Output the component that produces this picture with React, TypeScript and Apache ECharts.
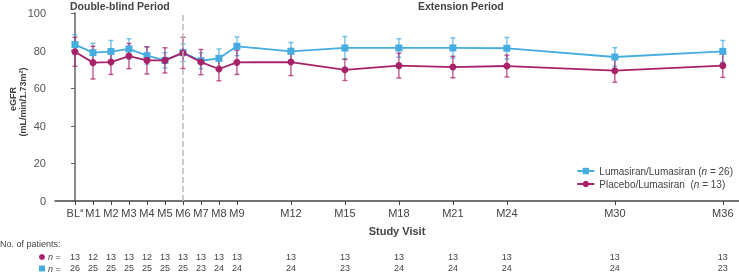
import React, { useEffect, useRef } from "react";
import * as echarts from "echarts";

const months = [0, 1, 2, 3, 4, 5, 6, 7, 8, 9, 12, 15, 18, 21, 24, 30, 36];
const visitLabels = ["BL", "M1", "M2", "M3", "M4", "M5", "M6", "M7", "M8", "M9", "M12", "M15", "M18", "M21", "M24", "M30", "M36"];
const lumaMean = [83.2, 78.9, 79.5, 80.9, 77.3, 74.8, 78.9, 74.6, 75.9, 82.3, 79.6, 81.4, 81.4, 81.4, 81.25, 76.6, 79.6];
const lumaSD = [5.2, 5.0, 5.9, 5.4, 4.5, 4.1, 4.7, 4.2, 5.0, 5.0, 4.7, 6.1, 4.9, 5.4, 5.75, 5.0, 5.8];
const placMean = [79.4, 73.6, 73.9, 77.1, 74.8, 74.8, 78.75, 73.9, 70.2, 73.75, 73.9, 69.8, 72.0, 71.25, 71.8, 69.3, 72.0];
const placSD = [7.7, 8.7, 6.6, 6.7, 7.25, 6.7, 8.3, 6.7, 6.3, 6.45, 7.2, 5.7, 6.6, 5.7, 5.8, 6.1, 6.25];
const nPlac = [13, 12, 13, 13, 12, 13, 13, 13, 13, 13, 13, 13, 13, 13, 13, 13, 13];
const nLuma = [26, 25, 25, 25, 25, 25, 25, 23, 24, 24, 24, 23, 24, 24, 24, 24, 23];
const yTicks = [0, 20, 40, 60, 80, 100];

const BLUE = "#46ADE0";
const MAG = "#A8226A";
const FONT = "Liberation Sans, Arial, sans-serif";

const LUMA_NAME = "Lumasiran/Lumasiran";
const PLAC_NAME = "Placebo/Lumasiran";

function errSeries(name: string, mean: number[], sd: number[], color: string) {
  return {
    type: "custom",
    name,
    xAxisIndex: 0,
    yAxisIndex: 0,
    encode: { x: 0, y: [1, 2] },
    data: months.map((m, i) => [m, mean[i] - sd[i], mean[i] + sd[i]]),
    renderItem: (params: any, api: any) => {
      const x = api.value(0);
      const lo = api.coord([x, api.value(1)]);
      const hi = api.coord([x, api.value(2)]);
      const w = 2.5;
      const style = { stroke: color, lineWidth: 1.4, opacity: 0.75 };
      return {
        type: "group",
        children: [
          { type: "line", shape: { x1: lo[0], y1: lo[1], x2: hi[0], y2: hi[1] }, style },
          { type: "line", shape: { x1: lo[0] - w, y1: lo[1], x2: lo[0] + w, y2: lo[1] }, style },
          { type: "line", shape: { x1: hi[0] - w, y1: hi[1], x2: hi[0] + w, y2: hi[1] }, style },
        ],
      };
    },
    z: 2,
  };
}

export default function App() {
  const ref = useRef<HTMLDivElement>(null);
  useEffect(() => {
    if (!ref.current) return;
    const chart = echarts.init(ref.current, undefined, { renderer: "svg" });
    const xMin = -1.11;
    const xMax = 36.9;
    const baseX = {
      type: "value",
      min: xMin,
      max: xMax,
      position: "bottom",
      splitLine: { show: false },
    };
    const option: any = {
      animation: false,
      textStyle: { fontFamily: FONT },
      grid: { left: 55, right: 0, top: 13, bottom: 72, containLabel: false },
      legend: {
        data: [LUMA_NAME, PLAC_NAME],
        orient: "vertical",
        right: 1,
        top: 161,
        itemGap: 3,
        itemWidth: 17,
        itemHeight: 8,
        textStyle: {
          fontSize: 10,
          color: "#444",
          fontFamily: FONT,
          rich: { i: { fontStyle: "italic", fontSize: 10, color: "#444", fontFamily: FONT } },
        },
        formatter: (name: string) =>
          name === LUMA_NAME ? `${name} ({i|n} = 26)` : `${name}  ({i|n} = 13)`,
      },
      xAxis: [
        {
          ...baseX,
          name: "Study Visit",
          nameLocation: "middle",
          nameGap: 24,
          nameTextStyle: { fontWeight: "bold", fontSize: 11, color: "#444", fontFamily: FONT },
          axisLine: { show: true, lineStyle: { color: "#444", width: 1.5 } },
          axisTick: { show: true, customValues: months, length: 4, lineStyle: { color: "#444", width: 1 } },
          axisLabel: {
            show: true,
            customValues: months,
            margin: 6,
            fontSize: 11,
            color: "#444",
            fontFamily: FONT,
            formatter: (v: number) => {
              const i = months.indexOf(v);
              const l = i >= 0 ? visitLabels[i] : "";
              return l === "BL" ? "BL{s|a}" : l;
            },
            rich: { s: { fontSize: 6, verticalAlign: "top", color: "#444", padding: [0, 0, 6, 0] } },
          },
        },
        {
          ...baseX,
          offset: 49,
          axisLine: { show: false },
          axisTick: { show: false },
          axisLabel: {
            show: true,
            customValues: months,
            margin: 2,
            fontSize: 9,
            color: "#444",
            fontFamily: FONT,
            formatter: (v: number) => {
              const i = months.indexOf(v);
              return i >= 0 ? String(nPlac[i]) : "";
            },
          },
        },
        {
          ...baseX,
          offset: 60,
          axisLine: { show: false },
          axisTick: { show: false },
          axisLabel: {
            show: true,
            customValues: months,
            margin: 2,
            fontSize: 9,
            color: "#444",
            fontFamily: FONT,
            formatter: (v: number) => {
              const i = months.indexOf(v);
              return i >= 0 ? String(nLuma[i]) : "";
            },
          },
        },
      ],
      yAxis: {
        type: "value",
        min: yTicks[0],
        max: yTicks[yTicks.length - 1],
        interval: 20,
        axisLine: { show: true, lineStyle: { color: "#8a8a8a", width: 2 } },
        axisTick: { show: true, length: 4, lineStyle: { color: "#666", width: 1 } },
        axisLabel: { fontSize: 11, color: "#555", margin: 9, fontFamily: FONT },
        splitLine: { show: false },
      },
      graphic: [
        {
          type: "text",
          left: 70,
          top: 0,
          style: { text: "Double-blind Period", fontSize: 10.5, fontWeight: "bold", fill: "#444", fontFamily: FONT },
        },
        {
          type: "text",
          left: 418,
          top: 0,
          style: { text: "Extension Period", fontSize: 10.5, fontWeight: "bold", fill: "#444", fontFamily: FONT },
        },
        {
          type: "text",
          x: 13,
          y: 99,
          rotation: Math.PI / 2,
          style: {
            text: "eGFR",
            fontSize: 9,
            fontWeight: "bold",
            fill: "#444",
            fontFamily: FONT,
            align: "center",
            verticalAlign: "middle",
          },
        },
        {
          type: "text",
          x: 23,
          y: 102,
          rotation: Math.PI / 2,
          style: {
            text: "(mL/min/1.73m²)",
            fontSize: 9,
            fontWeight: "bold",
            fill: "#444",
            fontFamily: FONT,
            align: "center",
            verticalAlign: "middle",
          },
        },
        {
          type: "text",
          x: 0,
          y: 244,
          style: { text: "No. of patients:", fontSize: 9, fill: "#444", fontFamily: FONT, verticalAlign: "middle" },
        },
        { type: "circle", shape: { cx: 42, cy: 257, r: 3 }, style: { fill: MAG } },
        { type: "rect", shape: { x: 39, y: 265.5, width: 6, height: 6 }, style: { fill: BLUE } },
        {
          type: "text",
          x: 48,
          y: 257,
          style: {
            text: "{i|n} =",
            fontSize: 9,
            fill: "#444",
            fontFamily: FONT,
            verticalAlign: "middle",
            rich: { i: { fontStyle: "italic", fontSize: 9, fill: "#444", fontFamily: FONT } },
          },
        },
        {
          type: "text",
          x: 48,
          y: 268.5,
          style: {
            text: "{i|n} =",
            fontSize: 9,
            fill: "#444",
            fontFamily: FONT,
            verticalAlign: "middle",
            rich: { i: { fontStyle: "italic", fontSize: 9, fill: "#444", fontFamily: FONT } },
          },
        },
      ],
      series: [
        errSeries("err-luma", lumaMean, lumaSD, BLUE),
        {
          type: "line",
          name: LUMA_NAME,
          data: months.map((m, i) => [m, lumaMean[i]]),
          symbol: "rect",
          symbolSize: 7,
          itemStyle: { color: BLUE },
          lineStyle: { color: BLUE, width: 1.8 },
          z: 3,
          markLine: {
            silent: true,
            symbol: "none",
            label: { show: false },
            lineStyle: { color: "#bbb", type: "dashed", width: 1.5 },
            data: [{ xAxis: months[6] }],
          },
        },
        errSeries("err-plac", placMean, placSD, MAG),
        {
          type: "line",
          name: PLAC_NAME,
          data: months.map((m, i) => [m, placMean[i]]),
          symbol: "circle",
          symbolSize: 7,
          itemStyle: { color: MAG },
          lineStyle: { color: MAG, width: 1.8 },
          z: 4,
        },
      ],
    };
    chart.setOption(option);
    return () => chart.dispose();
  }, []);
  return <div ref={ref} style={{ position: "fixed", left: 0, top: 0, width: 739, height: 273 }} />;
}
